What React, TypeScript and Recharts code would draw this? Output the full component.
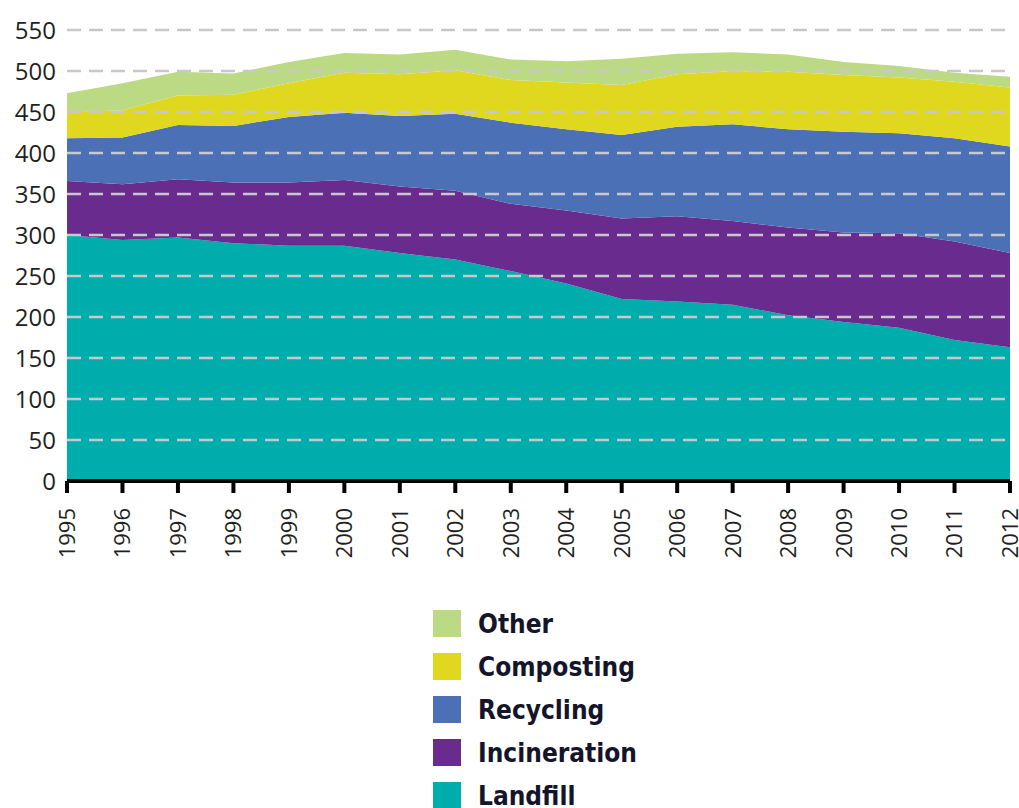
import { Area, AreaChart, Legend, ReferenceLine, XAxis, YAxis } from "recharts";

const years = ["1995", "1996", "1997", "1998", "1999", "2000", "2001", "2002", "2003", "2004", "2005", "2006", "2007", "2008", "2009", "2010", "2011", "2012"];

const landfill = [300, 294, 297, 290, 287, 287, 278, 270, 256, 241, 222, 219, 215, 202, 194, 187, 172, 163];
const incineration = [66, 68, 71, 74, 77, 80, 81, 84, 82, 89, 98, 104, 102, 107, 109, 115, 120, 115];
const recycling = [52, 57, 66, 69, 80, 82, 86, 94, 99, 99, 102, 109, 118, 120, 123, 122, 126, 130];
const composting = [31, 33, 36, 38, 41, 49, 51, 53, 52, 57, 61, 64, 65, 70, 69, 68, 69, 72];
const other = [24, 33, 29, 26, 26, 24, 24, 25, 25, 26, 32, 25, 23, 21, 16, 14, 11, 13];

const yTicks = [0, 50, 100, 150, 200, 250, 300, 350, 400, 450, 500, 550];

// bottom to top
const series = [
  { key: "Landfill", color: "#00adad" },
  { key: "Incineration", color: "#6a2b8f" },
  { key: "Recycling", color: "#4b70b6" },
  { key: "Composting", color: "#e0d81f" },
  { key: "Other", color: "#bcd983" },
];

const data = years.map((year, i) => ({
  year,
  Landfill: landfill[i],
  Incineration: incineration[i],
  Recycling: recycling[i],
  Composting: composting[i],
  Other: other[i],
}));

const YearTick = (props: any) => {
  const { x, y, payload } = props;
  return (
    <g transform={`translate(${x},${y + 13}) rotate(-90)`}>
      <text
        x={0}
        y={0}
        dy="0.36em"
        textAnchor="end"
        fill="#231f20"
        fontSize={22}
        fontFamily="'Open Sans', sans-serif"
      >
        {payload.value}
      </text>
    </g>
  );
};

const LegendBox = () => {
  const items = [...series].reverse();
  return (
    <div style={{ fontFamily: "'DejaVu Sans', sans-serif", fontStretch: "condensed" }}>
      {items.map((s) => (
        <div key={s.key} style={{ display: "flex", alignItems: "center", height: 43 }}>
          <div style={{ width: 28, height: 27, background: s.color, marginRight: 17 }} />
          <span style={{ fontSize: 26, fontWeight: "bold", color: "#14142a" }}>{s.key}</span>
        </div>
      ))}
    </div>
  );
};

export default function App() {
  return (
    <div style={{ position: "absolute", left: 0, top: 0, width: 1019, height: 808, background: "#fff" }}>
      <AreaChart
        width={1019}
        height={808}
        data={data}
        margin={{ top: 30, right: 9, left: 0, bottom: 227 }}
      >
        <XAxis
          dataKey="year"
          height={100}
          interval={0}
          axisLine={{ stroke: "#000", strokeWidth: 4 }}
          tickLine={{ stroke: "#000", strokeWidth: 4 }}
          tickSize={12}
          tick={<YearTick />}
        />
        <YAxis
          width={67}
          domain={[0, 550]}
          ticks={yTicks}
          interval={0}
          axisLine={false}
          tickLine={false}
          tickSize={0}
          tickMargin={11}
          tick={{ fill: "#231f20", fontSize: 24, fontFamily: "'Open Sans', sans-serif" }}
        />
        {series.map((s) => (
          <Area
            key={s.key}
            type="linear"
            dataKey={s.key}
            stackId="waste"
            stroke="none"
            fill={s.color}
            fillOpacity={1}
            isAnimationActive={false}
          />
        ))}
        {yTicks
          .filter((t) => t > 0)
          .map((t) => (
            <ReferenceLine
              key={t}
              y={t}
              stroke="#c8c8cc"
              strokeWidth={2.5}
              strokeDasharray="14 8"
            />
          ))}
        <Legend
          layout="vertical"
          align="center"
          verticalAlign="middle"
          wrapperStyle={{ top: 602, left: 433, width: "auto" }}
          content={<LegendBox />}
        />
      </AreaChart>
    </div>
  );
}
